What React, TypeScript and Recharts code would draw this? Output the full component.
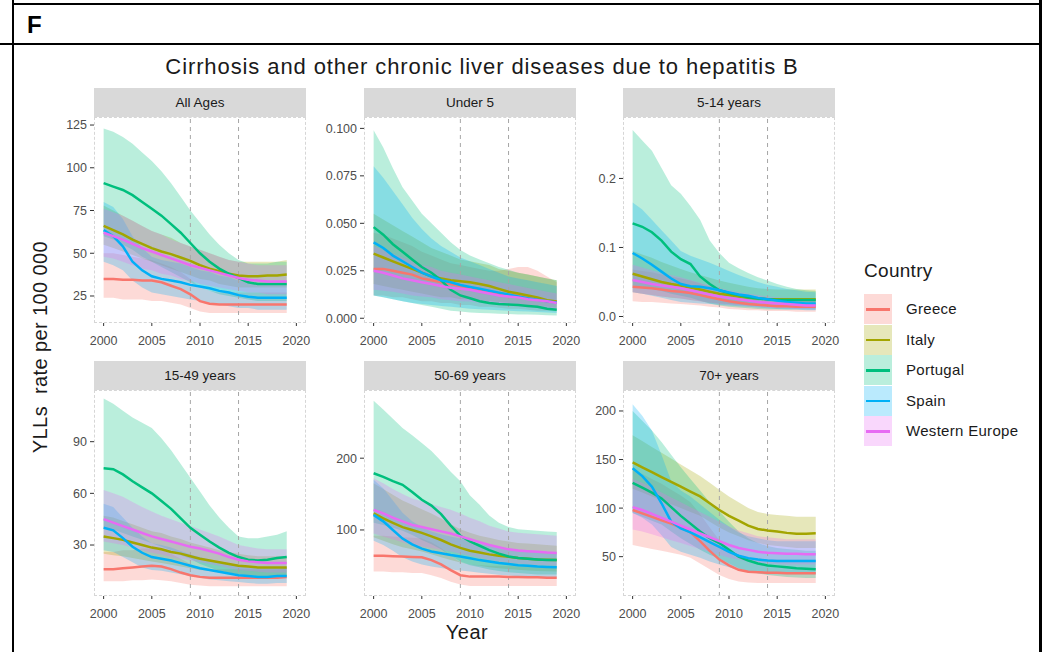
import { ComposedChart, Area, Line, XAxis, YAxis, ReferenceLine } from 'recharts'

const years = [2000, 2001, 2002, 2003, 2004, 2005, 2006, 2007, 2008, 2009, 2010, 2011, 2012, 2013, 2014, 2015, 2016, 2017, 2018, 2019]
const countries = ['Greece', 'Italy', 'Portugal', 'Spain', 'Western Europe']
const colors = ['#F8766D', '#A3A500', '#00BF7D', '#00B0F6', '#E76BF3']
const xTicks = [2000, 2005, 2010, 2015, 2020]
const markYears = [2009, 2014]

// All Ages
const allGreece = [35, 35, 34.5, 34.5, 34, 34, 33, 31, 29, 26, 22, 20.5, 20, 20, 20, 20, 20, 20, 20, 20]
const allGreeceLo = [24, 24, 23, 23, 23, 22, 22, 21, 20, 18, 16, 15, 15, 15, 15, 15, 15, 15, 15, 15]
const allGreeceHi = [50, 50, 49, 48, 47, 46, 44, 42, 39, 35, 30, 28, 27, 27, 27, 27, 27, 27, 27, 27]
const allItaly = [66, 63.5, 61, 58, 55.5, 53, 51, 49.5, 47.5, 45.5, 43, 41, 39.5, 38, 37, 36.5, 36.5, 37, 37, 37.5]
const allItalyLo = [55, 53, 51, 49, 47, 45, 43, 41, 39, 37, 35, 34, 32, 31, 30, 30, 30, 30, 30, 30]
const allItalyHi = [78, 75, 72, 69, 66, 63, 61, 59, 56, 54, 52, 50, 48, 46, 45, 45, 45, 45, 45, 46]
const allPortugal = [91, 89, 87, 84, 80, 76, 72, 67, 62, 56, 50, 45, 41, 38, 35.5, 33, 32, 32, 32, 32]
const allPortugalLo = [60, 58, 55, 52, 48, 45, 42, 39, 36, 33, 30, 28, 26, 25, 24, 23, 22, 22, 22, 22]
const allPortugalHi = [123, 121, 118, 114, 109, 104, 98, 91, 83, 75, 68, 61, 55, 50, 46, 44, 44, 44, 45, 45]
const allSpain = [63.5, 60, 54, 45, 40, 36.5, 35, 34, 33, 31.5, 30.5, 29.5, 28, 27, 25.5, 24.5, 24, 24, 24, 24]
const allSpainLo = [45, 43, 40, 34, 30, 27, 26, 25, 24, 23, 22, 21, 20, 19, 18, 18, 17, 17, 17, 17]
const allSpainHi = [80, 77, 70, 60, 53, 48, 46, 45, 44, 42, 40, 39, 37, 36, 34, 33, 32, 32, 32, 32]
const allWest = [62, 60, 58, 55.5, 53, 51, 49, 47, 45, 43, 41.5, 40, 38.5, 37, 35.5, 34.5, 34, 33.5, 33.5, 33.5]
const allWestLo = [48, 47, 45, 43, 41, 40, 38, 37, 35, 34, 32, 31, 30, 29, 28, 27, 27, 26, 26, 26]
const allWestHi = [76, 74, 72, 69, 66, 63, 61, 58, 56, 54, 52, 50, 48, 46, 45, 44, 43, 43, 43, 43]

// Under 5
const u5Greece = [0.026, 0.026, 0.025, 0.024, 0.023, 0.021, 0.02, 0.019, 0.018, 0.017, 0.016, 0.015, 0.014, 0.013, 0.0125, 0.012, 0.011, 0.01, 0.009, 0.0085]
const u5GreeceLo = [0.012, 0.012, 0.011, 0.011, 0.01, 0.009, 0.009, 0.008, 0.008, 0.007, 0.007, 0.006, 0.006, 0.0055, 0.005, 0.005, 0.0045, 0.004, 0.004, 0.0035]
const u5GreeceHi = [0.045, 0.044, 0.042, 0.04, 0.038, 0.035, 0.033, 0.031, 0.029, 0.028, 0.027, 0.026, 0.025, 0.025, 0.026, 0.027, 0.027, 0.025, 0.022, 0.019]
const u5Italy = [0.034, 0.032, 0.03, 0.028, 0.026, 0.024, 0.022, 0.021, 0.02, 0.0195, 0.019, 0.018, 0.017, 0.0155, 0.014, 0.013, 0.012, 0.011, 0.0095, 0.0088]
const u5ItalyLo = [0.018, 0.017, 0.016, 0.015, 0.014, 0.013, 0.012, 0.011, 0.011, 0.01, 0.01, 0.0095, 0.009, 0.0085, 0.008, 0.0075, 0.007, 0.0065, 0.006, 0.0055]
const u5ItalyHi = [0.055, 0.052, 0.049, 0.046, 0.043, 0.04, 0.037, 0.035, 0.033, 0.031, 0.03, 0.029, 0.028, 0.026, 0.025, 0.024, 0.023, 0.022, 0.021, 0.02]
const u5Portugal = [0.048, 0.044, 0.039, 0.035, 0.031, 0.027, 0.024, 0.02, 0.015, 0.012, 0.0105, 0.009, 0.008, 0.0075, 0.0072, 0.007, 0.0065, 0.006, 0.005, 0.0045]
const u5PortugalLo = [0.012, 0.011, 0.01, 0.009, 0.008, 0.007, 0.006, 0.005, 0.004, 0.0035, 0.003, 0.0028, 0.0026, 0.0024, 0.0022, 0.002, 0.002, 0.0018, 0.0016, 0.0015]
const u5PortugalHi = [0.099, 0.09, 0.079, 0.069, 0.062, 0.055, 0.05, 0.045, 0.04, 0.036, 0.033, 0.031, 0.029, 0.027, 0.0255, 0.024, 0.023, 0.022, 0.021, 0.02]
const u5Spain = [0.04, 0.037, 0.033, 0.03, 0.027, 0.024, 0.022, 0.02, 0.019, 0.0175, 0.0165, 0.0155, 0.0145, 0.0135, 0.0125, 0.0115, 0.0105, 0.0098, 0.009, 0.0083]
const u5SpainLo = [0.012, 0.011, 0.01, 0.009, 0.008, 0.0075, 0.007, 0.0065, 0.006, 0.0055, 0.005, 0.0048, 0.0045, 0.0042, 0.004, 0.0037, 0.0035, 0.0033, 0.003, 0.0028]
const u5SpainHi = [0.08, 0.074, 0.067, 0.06, 0.053, 0.047, 0.042, 0.038, 0.035, 0.032, 0.03, 0.028, 0.026, 0.024, 0.022, 0.021, 0.02, 0.019, 0.018, 0.017]
const u5West = [0.025, 0.024, 0.0225, 0.021, 0.02, 0.019, 0.018, 0.017, 0.016, 0.0155, 0.015, 0.014, 0.013, 0.012, 0.0115, 0.011, 0.01, 0.0095, 0.009, 0.008]
const u5WestLo = [0.015, 0.0145, 0.014, 0.013, 0.012, 0.0115, 0.011, 0.01, 0.0095, 0.009, 0.0088, 0.0082, 0.0076, 0.007, 0.0066, 0.0062, 0.0058, 0.0054, 0.005, 0.0046]
const u5WestHi = [0.038, 0.036, 0.034, 0.032, 0.03, 0.028, 0.027, 0.025, 0.024, 0.023, 0.022, 0.021, 0.02, 0.019, 0.018, 0.017, 0.016, 0.015, 0.014, 0.013]

// 5-14 years
const y514Greece = [0.043, 0.042, 0.041, 0.039, 0.037, 0.036, 0.034, 0.031, 0.028, 0.025, 0.022, 0.02, 0.018, 0.017, 0.016, 0.015, 0.015, 0.014, 0.014, 0.014]
const y514GreeceLo = [0.022, 0.021, 0.021, 0.02, 0.019, 0.018, 0.017, 0.016, 0.014, 0.013, 0.011, 0.01, 0.009, 0.009, 0.008, 0.008, 0.008, 0.007, 0.007, 0.007]
const y514GreeceHi = [0.068, 0.066, 0.064, 0.061, 0.058, 0.055, 0.052, 0.048, 0.044, 0.04, 0.036, 0.033, 0.03, 0.028, 0.027, 0.026, 0.025, 0.025, 0.025, 0.025]
const y514Italy = [0.062, 0.058, 0.054, 0.05, 0.047, 0.045, 0.042, 0.039, 0.036, 0.033, 0.031, 0.029, 0.027, 0.026, 0.025, 0.025, 0.025, 0.025, 0.025, 0.025]
const y514ItalyLo = [0.035, 0.033, 0.031, 0.029, 0.027, 0.026, 0.024, 0.022, 0.02, 0.019, 0.018, 0.017, 0.016, 0.015, 0.015, 0.014, 0.014, 0.014, 0.014, 0.014]
const y514ItalyHi = [0.095, 0.09, 0.085, 0.079, 0.074, 0.069, 0.064, 0.06, 0.056, 0.052, 0.049, 0.046, 0.043, 0.041, 0.04, 0.039, 0.039, 0.039, 0.039, 0.039]
const y514Portugal = [0.135, 0.13, 0.122, 0.11, 0.094, 0.083, 0.076, 0.058, 0.047, 0.038, 0.034, 0.031, 0.028, 0.026, 0.025, 0.024, 0.024, 0.024, 0.024, 0.024]
const y514PortugalLo = [0.045, 0.043, 0.04, 0.037, 0.033, 0.03, 0.027, 0.023, 0.019, 0.016, 0.014, 0.013, 0.012, 0.011, 0.01, 0.01, 0.01, 0.01, 0.01, 0.01]
const y514PortugalHi = [0.27, 0.255, 0.24, 0.215, 0.19, 0.178, 0.16, 0.14, 0.11, 0.092, 0.078, 0.07, 0.063, 0.057, 0.052, 0.047, 0.043, 0.04, 0.038, 0.037]
const y514Spain = [0.092, 0.084, 0.075, 0.065, 0.055, 0.047, 0.044, 0.043, 0.041, 0.038, 0.035, 0.032, 0.03, 0.027, 0.025, 0.023, 0.021, 0.02, 0.019, 0.019]
const y514SpainLo = [0.035, 0.033, 0.03, 0.027, 0.024, 0.021, 0.02, 0.019, 0.018, 0.017, 0.016, 0.015, 0.014, 0.013, 0.012, 0.011, 0.01, 0.01, 0.009, 0.009]
const y514SpainHi = [0.165, 0.155, 0.14, 0.125, 0.11, 0.095, 0.088, 0.083, 0.078, 0.072, 0.066, 0.06, 0.055, 0.05, 0.046, 0.043, 0.04, 0.038, 0.036, 0.035]
const y514West = [0.053, 0.05, 0.047, 0.045, 0.043, 0.041, 0.038, 0.035, 0.032, 0.029, 0.027, 0.025, 0.023, 0.021, 0.02, 0.019, 0.018, 0.017, 0.016, 0.016]
const y514WestLo = [0.035, 0.033, 0.031, 0.029, 0.028, 0.026, 0.024, 0.022, 0.02, 0.018, 0.017, 0.016, 0.015, 0.014, 0.013, 0.012, 0.012, 0.011, 0.011, 0.01]
const y514WestHi = [0.075, 0.071, 0.067, 0.063, 0.06, 0.057, 0.053, 0.049, 0.045, 0.041, 0.038, 0.035, 0.033, 0.031, 0.029, 0.028, 0.027, 0.026, 0.025, 0.024]

// 15-49 years
const y1549Greece = [16, 16, 16.5, 17, 17.5, 18, 17.5, 16, 14, 12.5, 11.5, 11, 11, 11, 11, 11, 11, 11, 11, 11.5]
const y1549GreeceLo = [9, 9, 9, 9.5, 9.5, 10, 9.5, 9, 8, 7, 6.5, 6, 6, 6, 6, 6, 6, 6, 6, 6]
const y1549GreeceHi = [26, 26, 27, 27, 28, 28, 27, 25, 22, 19, 17, 16, 16, 16, 16, 16, 16, 16, 16, 17]
const y1549Italy = [35, 34, 33, 31.5, 30, 28.5, 27.5, 26, 25, 23.5, 22, 21, 20, 19, 18, 17.5, 17, 17, 17, 17]
const y1549ItalyLo = [25, 24, 23.5, 22.5, 21.5, 20.5, 19.5, 18.5, 17.5, 16.5, 15.5, 15, 14, 13.5, 13, 12.5, 12, 12, 12, 12]
const y1549ItalyHi = [47, 46, 44, 42, 40, 38, 37, 35, 33.5, 31.5, 30, 28.5, 27, 26, 25, 24, 23.5, 23.5, 23.5, 23.5]
const y1549Portugal = [74.5, 74, 71, 67, 63.5, 60, 55.5, 51, 45.5, 40, 36, 32, 28.5, 25.5, 23, 21.5, 21, 21.5, 22.5, 23]
const y1549PortugalLo = [40, 39, 37, 35, 33, 31, 29, 27, 24, 22, 19, 17, 15, 14, 13, 12, 12, 12, 12, 12]
const y1549PortugalHi = [115, 112, 108, 104, 101, 98, 92, 85, 77, 69, 61, 53, 46, 40, 35, 34, 34, 35, 36, 38]
const y1549Spain = [40, 38.5, 34, 29, 25.5, 23, 22, 21, 19.5, 18, 16.5, 15.5, 14.5, 13.5, 12.5, 12, 11.5, 11.5, 12, 12]
const y1549SpainLo = [27, 26, 23, 20, 17, 15.5, 15, 14, 13, 12, 11, 10, 9.5, 9, 8.5, 8, 7.5, 7.5, 8, 8]
const y1549SpainHi = [54, 52, 46, 40, 35, 31, 30, 28.5, 26.5, 24.5, 23, 21.5, 20, 19, 18, 17, 16.5, 16.5, 17, 17]
const y1549West = [45, 43, 41, 39, 37, 35, 33.5, 32, 30.5, 29, 28, 26.5, 25, 23, 21.5, 20.5, 20, 19.5, 19.5, 19.5]
const y1549WestLo = [32, 31, 30, 28.5, 27, 25.5, 24.5, 23, 22, 21, 20, 19, 18, 16.5, 15.5, 15, 14.5, 14, 14, 14]
const y1549WestHi = [62, 60, 58, 55, 52, 49.5, 47, 45, 43, 41, 39, 37, 35, 32.5, 30, 29, 28, 27.5, 27.5, 27.5]

// 50-69 years
const y5069Greece = [64, 64, 63.5, 63, 62.5, 62, 58, 52, 44, 37, 35, 35, 35, 35, 34.5, 34.5, 34, 34, 33.5, 33.5]
const y5069GreeceLo = [42, 42, 41, 41, 40, 40, 37, 33, 28, 24, 22, 22, 22, 22, 22, 22, 22, 22, 22, 22]
const y5069GreeceHi = [92, 92, 91, 90, 89, 88, 83, 75, 64, 55, 52, 51, 50, 50, 50, 49, 49, 48, 48, 48]
const y5069Italy = [123, 116, 110, 104, 100, 96, 91, 86, 80, 75, 71, 68.5, 66, 64, 62.5, 61, 60, 59, 58.5, 58]
const y5069ItalyLo = [90, 85, 80, 76, 73, 70, 66, 62, 58, 54.5, 52, 50, 48, 46.5, 45.5, 44.5, 43.5, 43, 42.5, 42]
const y5069ItalyHi = [165, 157, 149, 141, 135, 129, 123, 116, 108, 101, 96, 92, 89, 86, 84, 82, 81, 80, 79, 78]
const y5069Portugal = [179, 174, 168, 163, 153, 142, 134, 122, 106, 92, 84, 78, 72, 67, 63, 61, 60, 59, 58, 58]
const y5069PortugalLo = [110, 107, 103, 99, 93, 86, 80, 73, 64, 56, 51, 48, 45, 43, 41, 40, 39, 38, 38, 38]
const y5069PortugalHi = [280, 268, 255, 242, 232, 221, 210, 196, 181, 168, 148, 135, 120, 110, 104, 101, 100, 99, 98, 97]
const y5069Spain = [121, 112, 100, 88, 80, 74, 70, 67.5, 65, 63, 60.5, 58, 56, 54, 52.5, 51, 50, 49, 48.5, 48]
const y5069SpainLo = [85, 79, 71, 62, 56, 52, 49, 47, 45, 43.5, 42, 40.5, 39, 37.5, 36.5, 35.5, 35, 34.5, 34, 34]
const y5069SpainHi = [170, 158, 141, 124, 112, 104, 98, 94, 91, 88, 84, 81, 78, 75, 73, 71, 70, 69, 68, 67]
const y5069West = [128, 123, 117, 112, 107, 104, 101, 98, 95, 91, 87, 83, 79, 76, 73, 71.5, 70.5, 69.5, 68.5, 68]
const y5069WestLo = [95, 91, 87, 83, 79, 77, 75, 72.5, 70, 67, 64, 61, 58, 56, 54, 53, 52, 51, 50.5, 50]
const y5069WestHi = [172, 165, 157, 150, 144, 140, 136, 132, 128, 123, 117, 112, 106, 102, 98, 96, 95, 94, 93, 92]

// 70+ years
const y70Greece = [98, 94.5, 91, 87.5, 84, 80, 75, 66, 56, 47, 41, 36.5, 34.5, 34, 33.5, 33.5, 33, 33, 33, 33]
const y70GreeceLo = [62, 60, 58, 56, 54, 52, 49, 43, 37, 31, 27, 24.5, 23.5, 23, 23, 23, 23, 23, 23, 23]
const y70GreeceHi = [140, 135, 130, 125, 119, 113, 106, 94, 80, 67, 58, 52, 49, 48, 47, 47, 47, 47, 47, 47]
const y70Italy = [147, 142, 137, 132, 127, 122, 117, 112, 105, 98, 92, 87, 82, 78.5, 77, 76, 74.5, 73.5, 73.5, 74]
const y70ItalyLo = [120, 116, 112, 108, 104, 100, 96, 92, 86, 80, 75, 71, 67, 64, 62, 61, 60, 59, 59, 59]
const y70ItalyHi = [175, 169, 163, 157, 151, 145, 139, 133, 126, 119, 112, 106, 100, 96, 94, 93, 92, 91, 91, 91]
const y70Portugal = [126, 121, 116, 110, 101, 92, 84, 76, 69, 64, 57, 50, 46, 43, 41, 40, 39, 38, 37.5, 37]
const y70PortugalLo = [95, 91, 87, 83, 76, 69, 63, 57, 52, 48, 43, 38, 35, 33, 31, 30, 29, 28.5, 28, 28]
const y70PortugalHi = [200, 190, 180, 168, 155, 142, 130, 118, 106, 97, 86, 76, 69, 64, 61, 59, 58, 57, 56, 56]
const y70Spain = [141, 133, 122, 105, 86, 79, 75, 70, 65, 60, 55, 51, 48.5, 47, 46, 45.5, 45.5, 45.5, 45.5, 45.5]
const y70SpainLo = [95, 90, 83, 72, 60, 55, 52, 49, 45, 42, 39, 36, 34, 33, 32, 32, 32, 32, 32, 32]
const y70SpainHi = [207, 195, 180, 155, 128, 118, 112, 104, 96, 88, 81, 75, 71, 69, 67, 66, 66, 66, 66, 66]
const y70West = [101, 98, 94, 90, 86, 82, 78, 74, 70, 66, 62, 59, 57, 55, 54, 53.5, 53, 53, 52.5, 52.5]
const y70WestLo = [78, 76, 73, 70, 67, 64, 61, 58, 55, 52, 49, 47, 45, 44, 43, 42.5, 42, 42, 42, 42]
const y70WestHi = [130, 126, 121, 116, 111, 106, 101, 96, 91, 86, 81, 77, 74, 71, 70, 69, 68, 68, 68, 68]

const PW = 212
const PH = 206
const STRIP = 29
const AXIS_W = 60
const AXIS_H = 28
const RIGHT_PAD = 18
const FONT = "'Liberation Sans', Arial, sans-serif"

type Panel = {
  title: string
  left: number
  top: number
  domain: [number, number]
  ticks: number[]
  digits: number
  series: number[][][]
}

const panels: Panel[] = [
  {
    title: 'All Ages', left: 94, top: 117, domain: [9.2, 129.7], ticks: [25, 50, 75, 100, 125], digits: 0,
    series: [[allGreece, allGreeceLo, allGreeceHi], [allItaly, allItalyLo, allItalyHi], [allPortugal, allPortugalLo, allPortugalHi], [allSpain, allSpainLo, allSpainHi], [allWest, allWestLo, allWestHi]],
  },
  {
    title: 'Under 5', left: 364, top: 117, domain: [-0.0025, 0.106], ticks: [0, 0.025, 0.05, 0.075, 0.1], digits: 3,
    series: [[u5Greece, u5GreeceLo, u5GreeceHi], [u5Italy, u5ItalyLo, u5ItalyHi], [u5Portugal, u5PortugalLo, u5PortugalHi], [u5Spain, u5SpainLo, u5SpainHi], [u5West, u5WestLo, u5WestHi]],
  },
  {
    title: '5-14 years', left: 623, top: 117, domain: [-0.0094, 0.289], ticks: [0, 0.1, 0.2], digits: 1,
    series: [[y514Greece, y514GreeceLo, y514GreeceHi], [y514Italy, y514ItalyLo, y514ItalyHi], [y514Portugal, y514PortugalLo, y514PortugalHi], [y514Spain, y514SpainLo, y514SpainHi], [y514West, y514WestLo, y514WestHi]],
  },
  {
    title: '15-49 years', left: 94, top: 390, domain: [0.4, 120], ticks: [30, 60, 90], digits: 0,
    series: [[y1549Greece, y1549GreeceLo, y1549GreeceHi], [y1549Italy, y1549ItalyLo, y1549ItalyHi], [y1549Portugal, y1549PortugalLo, y1549PortugalHi], [y1549Spain, y1549SpainLo, y1549SpainHi], [y1549West, y1549WestLo, y1549WestHi]],
  },
  {
    title: '50-69 years', left: 364, top: 390, domain: [8, 295], ticks: [100, 200], digits: 0,
    series: [[y5069Greece, y5069GreeceLo, y5069GreeceHi], [y5069Italy, y5069ItalyLo, y5069ItalyHi], [y5069Portugal, y5069PortugalLo, y5069PortugalHi], [y5069Spain, y5069SpainLo, y5069SpainHi], [y5069West, y5069WestLo, y5069WestHi]],
  },
  {
    title: '70+ years', left: 623, top: 390, domain: [9.5, 221.6], ticks: [50, 100, 150, 200], digits: 0,
    series: [[y70Greece, y70GreeceLo, y70GreeceHi], [y70Italy, y70ItalyLo, y70ItalyHi], [y70Portugal, y70PortugalLo, y70PortugalHi], [y70Spain, y70SpainLo, y70SpainHi], [y70West, y70WestLo, y70WestHi]],
  },
]

const FacetPanel = ({ p }: { p: Panel }) => {
  const data = years.map((year, i) => {
    const row: Record<string, any> = { year }
    p.series.forEach((s, k) => {
      row['m' + k] = s[0][i]
      row['r' + k] = [s[1][i], s[2][i]]
    })
    return row
  })

  return (
    <>
      <div style={{
        position: 'absolute', left: p.left, top: p.top - STRIP, width: PW, height: STRIP,
        background: '#D9D9D9', color: '#1A1A1A', fontSize: 13.5, lineHeight: STRIP + 'px', textAlign: 'center',
      }}>
        {p.title}
      </div>
      <div style={{ position: 'absolute', left: p.left - AXIS_W, top: p.top }}>
        <ComposedChart width={AXIS_W + PW + RIGHT_PAD} height={PH + AXIS_H} data={data} margin={{ top: 0, right: RIGHT_PAD, bottom: 0, left: 0 }}>
          <XAxis
            type="number" dataKey="year" domain={[1999, 2021]} ticks={xTicks} interval={0} allowDataOverflow
            height={AXIS_H} axisLine={false} tickSize={3} tickMargin={10}
            tickLine={{ stroke: '#333333' }} tick={{ fill: '#4D4D4D', fontSize: 12.5 }}
          />
          <YAxis
            type="number" domain={p.domain} ticks={p.ticks} interval={0} allowDataOverflow
            width={AXIS_W} axisLine={false} tickSize={4} tickMargin={3}
            tickLine={{ stroke: '#333333' }} tick={{ fill: '#4D4D4D', fontSize: 12.5 }}
            tickFormatter={(v: number) => v.toFixed(p.digits)}
          />
          {p.series.map((_, k) => (
            <Area
              key={'a' + k} type="linear" dataKey={'r' + k} stroke="none" fill={colors[k]}
              fillOpacity={0.27} isAnimationActive={false} activeDot={false}
            />
          ))}
          {markYears.map((y) => (
            <ReferenceLine key={y} x={y} stroke="#A6A6A6" strokeDasharray="4 4" />
          ))}
          {p.series.map((_, k) => (
            <Line
              key={'l' + k} type="linear" dataKey={'m' + k} stroke={colors[k]} strokeWidth={2.5}
              dot={false} activeDot={false} isAnimationActive={false}
            />
          ))}
        </ComposedChart>
      </div>
      <div style={{
        position: 'absolute', left: p.left, top: p.top, width: PW - 2, height: PH - 2,
        border: '1px dashed #D6D6D6', pointerEvents: 'none',
      }} />
    </>
  )
}

const Legend = () => (
  <div style={{ position: 'absolute', left: 864, top: 260 }}>
    <div style={{ fontSize: 19, color: '#1A1A1A', height: 34, letterSpacing: 0.3 }}>Country</div>
    {countries.map((c, k) => (
      <div key={c} style={{ position: 'relative', height: 30.5 }}>
        <div style={{ position: 'absolute', left: 0, top: 0, width: 28, height: 30, background: colors[k], opacity: 0.27 }} />
        <div style={{ position: 'absolute', left: 2, top: 14, width: 24, height: 2.5, background: colors[k] }} />
        <div style={{ position: 'absolute', left: 42, top: 6, fontSize: 15, color: '#1A1A1A', whiteSpace: 'nowrap', letterSpacing: 0.3 }}>{c}</div>
      </div>
    ))}
  </div>
)

export default function App() {
  return (
    <div style={{ position: 'absolute', left: 0, top: 0, width: 1046, height: 652, background: '#fff', fontFamily: FONT, overflow: 'hidden' }}>
      {/* table frame around the figure */}
      <div style={{ position: 'absolute', left: 13, top: 3, width: 1028, height: 2, background: '#000' }} />
      <div style={{ position: 'absolute', left: 0, top: 43, width: 1041, height: 2, background: '#000' }} />
      <div style={{ position: 'absolute', left: 12, top: 0, width: 2, height: 652, background: '#000' }} />
      <div style={{ position: 'absolute', left: 1039, top: 0, width: 3, height: 652, background: '#000' }} />
      <div style={{ position: 'absolute', left: 27, top: 11, fontSize: 24, fontWeight: 'bold', color: '#000' }}>F</div>

      <div style={{ position: 'absolute', left: 0, width: 964, top: 54, textAlign: 'center', fontSize: 22, letterSpacing: 0.9, color: '#1A1A1A' }}>
        Cirrhosis and other chronic liver diseases due to hepatitis B
      </div>

      {panels.map((p) => <FacetPanel key={p.title} p={p} />)}

      <div style={{
        position: 'absolute', left: 40, top: 347, transform: 'translate(-50%, -50%) rotate(-90deg)',
        fontSize: 20, letterSpacing: 0.4, color: '#1A1A1A', whiteSpace: 'pre',
      }}>
        {'YLLs  rate per 100 000'}
      </div>
      <div style={{ position: 'absolute', left: 94, width: 746, top: 621, textAlign: 'center', fontSize: 20, letterSpacing: 0.5, color: '#1A1A1A' }}>
        Year
      </div>

      <Legend />
    </div>
  )
}
